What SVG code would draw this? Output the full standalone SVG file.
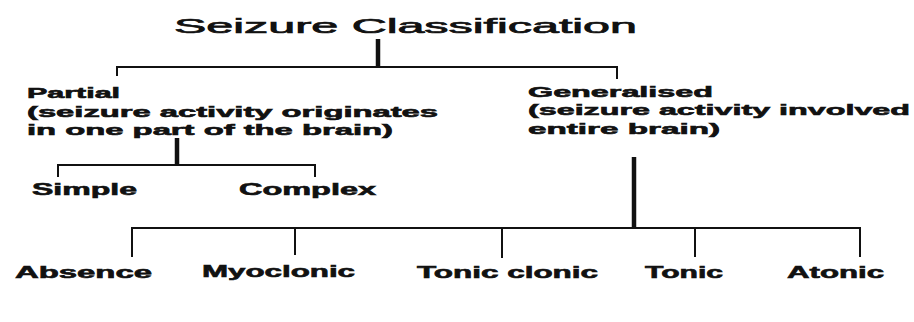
<svg xmlns="http://www.w3.org/2000/svg" width="914" height="322" viewBox="0 0 914 322">
<style>
.t{font-family:"Liberation Sans",Arial,sans-serif;fill:#111;stroke:#111;}
.title{font-size:21px;font-weight:normal;stroke-width:0.7;}
.lbl{font-size:15px;font-weight:bold;stroke-width:0.6;}
.leaf{font-size:16px;font-weight:bold;stroke-width:0.6;}
.ln{stroke:#111;stroke-width:2;fill:none;}
.stem{stroke:#111;stroke-width:4.5;fill:none;}
</style>
<rect width="914" height="322" fill="#fff"/>
<g id="connectors">
<line class="stem" x1="378" y1="39" x2="378" y2="67"/>
<polyline class="ln" points="117,76 117,67 617,67 617,79"/>
<line class="stem" x1="177" y1="138" x2="177" y2="165"/>
<polyline class="ln" points="58,177 58,165 315,165 315,177"/>
<line class="stem" x1="634" y1="157" x2="634" y2="228"/>
<polyline class="ln" points="132,257 132,228 860,228 860,257"/>
<line class="ln" x1="295" y1="228" x2="295" y2="255"/>
<line class="ln" x1="502" y1="228" x2="502" y2="258"/>
<line class="ln" x1="695" y1="228" x2="695" y2="257"/>
</g>
<g id="title"><text class="t title" x="174" y="33" textLength="463" lengthAdjust="spacingAndGlyphs">Seizure Classification</text></g>
<g id="partial">
<text class="t lbl" x="27" y="98" textLength="93" lengthAdjust="spacingAndGlyphs">Partial</text>
<text class="t lbl" x="27" y="117" textLength="411" lengthAdjust="spacingAndGlyphs">(seizure activity originates</text>
<text class="t lbl" x="27" y="135" textLength="366" lengthAdjust="spacingAndGlyphs">in one part of the brain)</text>
</g>
<g id="generalised">
<text class="t lbl" x="528" y="97" textLength="185" lengthAdjust="spacingAndGlyphs">Generalised</text>
<text class="t lbl" x="528" y="115" textLength="382" lengthAdjust="spacingAndGlyphs">(seizure activity involved</text>
<text class="t lbl" x="528" y="134" textLength="192" lengthAdjust="spacingAndGlyphs">entire brain)</text>
</g>
<g id="simple"><text class="t leaf" x="32" y="195" textLength="105" lengthAdjust="spacingAndGlyphs">Simple</text></g>
<g id="complex"><text class="t leaf" x="239" y="195" textLength="137" lengthAdjust="spacingAndGlyphs">Complex</text></g>
<g id="absence"><text class="t leaf" x="15" y="278" textLength="137" lengthAdjust="spacingAndGlyphs">Absence</text></g>
<g id="myoclonic"><text class="t leaf" x="202" y="277" textLength="153" lengthAdjust="spacingAndGlyphs">Myoclonic</text></g>
<g id="tonic-clonic"><text class="t leaf" x="417" y="278" textLength="181" lengthAdjust="spacingAndGlyphs">Tonic clonic</text></g>
<g id="tonic"><text class="t leaf" x="645" y="278" textLength="78" lengthAdjust="spacingAndGlyphs">Tonic</text></g>
<g id="atonic"><text class="t leaf" x="787" y="278" textLength="97" lengthAdjust="spacingAndGlyphs">Atonic</text></g>
</svg>
